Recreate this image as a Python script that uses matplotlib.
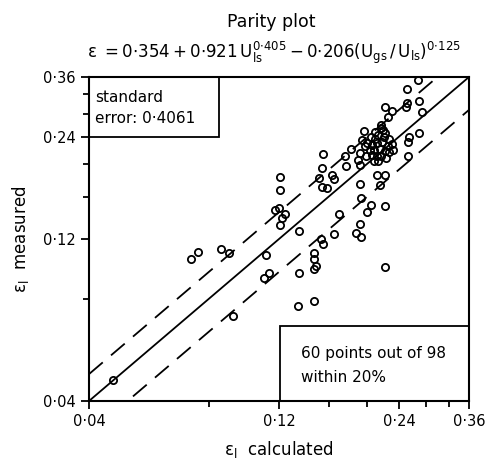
import matplotlib
matplotlib.use("Agg")
import matplotlib.pyplot as plt
from matplotlib.ticker import FixedLocator, FixedFormatter, NullFormatter
from matplotlib.patches import Rectangle

plt.rcParams["font.family"] = ["DejaVu Sans"]
plt.rcParams["mathtext.default"] = "regular"

# liquid holdup, calculated vs measured
eps_calc = [
    0.046, 0.072, 0.075, 0.086, 0.090, 0.092, 0.111, 0.113, 0.110, 0.121,
    0.121, 0.117, 0.120, 0.124, 0.122, 0.121, 0.135, 0.135, 0.134, 0.147,
    0.147, 0.147, 0.149, 0.147, 0.153, 0.155, 0.165, 0.170, 0.187, 0.193,
    0.192, 0.200, 0.204, 0.221, 0.193, 0.221, 0.192, 0.211, 0.221, 0.215,
    0.155, 0.154, 0.151, 0.154, 0.158, 0.163, 0.165, 0.177, 0.176, 0.182,
    0.268, 0.252, 0.270, 0.251, 0.250, 0.221, 0.231, 0.226, 0.275, 0.270,
    0.255, 0.253, 0.253, 0.196, 0.209, 0.217, 0.219, 0.209, 0.194, 0.192,
    0.189, 0.192,
    0.204, 0.213, 0.220, 0.227, 0.200, 0.206, 0.212, 0.218, 0.225, 0.230,
    0.203, 0.208, 0.215, 0.221, 0.227, 0.199, 0.205, 0.211, 0.217, 0.223,
    0.208, 0.197, 0.216, 0.232, 0.222, 0.213,
]
eps_meas = [
    0.046, 0.105, 0.110, 0.112, 0.109, 0.071, 0.108, 0.095, 0.092, 0.183,
    0.167, 0.146, 0.148, 0.142, 0.138, 0.132, 0.127, 0.095, 0.076, 0.079,
    0.109, 0.105, 0.100, 0.098, 0.120, 0.116, 0.124, 0.142, 0.125, 0.122,
    0.133, 0.144, 0.151, 0.150, 0.158, 0.099, 0.174, 0.185, 0.185, 0.173,
    0.213, 0.194, 0.181, 0.171, 0.170, 0.185, 0.180, 0.197, 0.210, 0.221,
    0.353, 0.331, 0.306, 0.301, 0.293, 0.294, 0.286, 0.275, 0.284, 0.247,
    0.240, 0.232, 0.210, 0.250, 0.248, 0.260, 0.251, 0.237, 0.235, 0.215,
    0.205, 0.198,
    0.240, 0.243, 0.240, 0.236, 0.230, 0.227, 0.230, 0.232, 0.225, 0.228,
    0.219, 0.219, 0.221, 0.218, 0.216, 0.211, 0.212, 0.211, 0.211, 0.208,
    0.204, 0.225, 0.255, 0.219, 0.246, 0.204,
]

lims = [0.04, 0.36]
major_ticks = [0.04, 0.12, 0.24, 0.36]
major_labels = ["0·04", "0·12", "0·24", "0·36"]
minor_ticks = [0.08, 0.16, 0.20, 0.28, 0.32]
band = 0.20  # +/- 20 %

fig = plt.figure(figsize=(4.91, 4.61), dpi=100)
ax = fig.add_axes([0.1813, 0.1302, 0.7739, 0.7028])
ax.set_xscale("log")
ax.set_yscale("log")

ax.plot(lims, lims, color="black", lw=1.3)
ax.plot(lims, [v * (1 + band) for v in lims], color="black", lw=1.3, ls=(0, (10, 6)))
ax.plot(lims, [v * (1 - band) for v in lims], color="black", lw=1.3, ls=(0, (10, 6)))

ax.plot(eps_calc, eps_meas, "o", ms=5.2, mfc="none", mec="black", mew=1.3)

ax.set_xlim(lims)
ax.set_ylim(lims)

for axis in (ax.xaxis, ax.yaxis):
    axis.set_major_locator(FixedLocator(major_ticks))
    axis.set_major_formatter(FixedFormatter(major_labels))
    axis.set_minor_locator(FixedLocator(minor_ticks))
    axis.set_minor_formatter(NullFormatter())

ax.tick_params(which="major", direction="out", length=6, width=1.3, labelsize=10.5, colors="black")
ax.tick_params(which="minor", direction="out", length=4.5, width=1.3)
for sp in ax.spines.values():
    sp.set_linewidth(1.5)

ax.set_xlabel(r"$\varepsilon_l$  calculated", fontsize=12, labelpad=7)
ax.set_ylabel(r"$\varepsilon_l$  measured", fontsize=12, labelpad=9)

# text boxes
ax.add_patch(Rectangle((0, 0.815), 0.342, 0.185, transform=ax.transAxes,
                       fill=False, ec="black", lw=1.3, clip_on=False))
ax.text(0.016, 0.938, "standard", transform=ax.transAxes, fontsize=11, va="center")
ax.text(0.016, 0.873, "error: 0·4061", transform=ax.transAxes, fontsize=11, va="center")

ax.add_patch(Rectangle((0.503, 0), 0.497, 0.231, transform=ax.transAxes,
                       fill=False, ec="black", lw=1.3, clip_on=False))
ax.text(0.558, 0.148, "60 points out of 98", transform=ax.transAxes, fontsize=11, va="center")
ax.text(0.558, 0.071, "within 20%", transform=ax.transAxes, fontsize=11, va="center")

fig.text(0.552, 0.952, "Parity plot", ha="center", va="center", fontsize=12.5)
fig.text(0.557, 0.885,
         r"$\varepsilon\ = 0{\cdot}354 + 0{\cdot}921\,U_{ls}^{0{\cdot}405} - 0{\cdot}206(U_{gs}\,/\,U_{ls})^{0{\cdot}125}$",
         ha="center", va="center", fontsize=12)

fig.savefig("out.png", dpi=100)
